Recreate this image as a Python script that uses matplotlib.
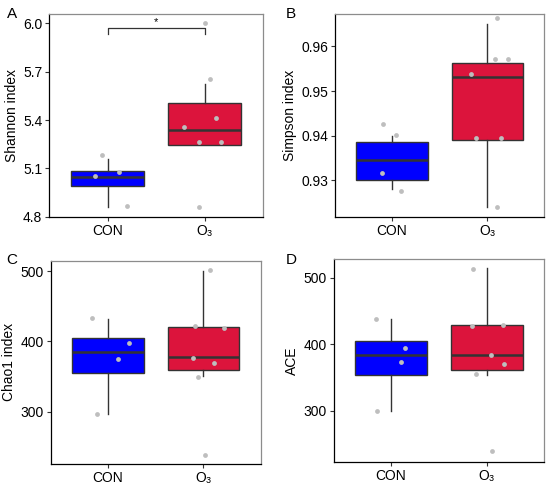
import matplotlib
matplotlib.use("Agg")
import matplotlib.pyplot as plt

plt.rcParams['font.family'] = ['Liberation Sans', 'DejaVu Sans']

groups = ["CON", "O\u2083"]
box_colors = ["#0000FF", "#DC143C"]

# box statistics per panel: (whislo, q1, med, q3, whishi) for CON and O3
shannon_box = [(4.858, 4.990, 5.048, 5.083, 5.160), (5.247, 5.247, 5.336, 5.503, 5.623)]
simpson_box = [(0.92806, 0.93015, 0.93448, 0.93851, 0.9400), (0.92403, 0.93903, 0.95313, 0.95619, 0.96507)]
chao1_box = [(296.7, 355.0, 385.3, 404.7, 431.3), (350.7, 359.7, 377.7, 420.9, 500.0)]
ace_box = [(300.0, 354.1, 383.2, 404.8, 437.3), (354.1, 361.7, 383.7, 428.8, 514.5)]

# jittered sample points (x position, value)
shannon_x = [0.87, 0.945, 1.116, 1.195, 1.79, 1.94, 1.94, 2.0, 2.05, 2.11, 2.17]
shannon_y = [5.054, 5.183, 5.079, 4.864, 5.359, 5.265, 4.858, 6.0, 5.654, 5.41, 5.265]
simpson_x = [0.908, 1.041, 0.897, 1.09, 2.10, 2.08, 2.22, 1.83, 1.88, 2.15, 2.10]
simpson_y = [0.94254, 0.94022, 0.93157, 0.92769, 0.96642, 0.95709, 0.95724, 0.95381, 0.93955, 0.93955, 0.92403]
chao1_x = [0.833, 1.22, 1.10, 0.885, 2.07, 1.91, 2.22, 1.89, 2.11, 1.94, 2.02]
chao1_y = [432.7, 397.2, 374.9, 296.7, 500.9, 422.3, 419.4, 376.8, 368.7, 349.8, 238.9]
ace_x = [0.84, 1.15, 1.10, 0.85, 1.86, 1.85, 2.17, 2.04, 2.18, 1.89, 2.05]
ace_y = [438.3, 394.7, 372.7, 300.0, 513.5, 427.8, 428.8, 384.2, 370.2, 355.6, 238.9]

panels = [
    dict(letter="A", ylabel="Shannon index", box=shannon_box, px=shannon_x, py=shannon_y,
         ylim=(4.8, 6.058), ticks=[4.8, 5.1, 5.4, 5.7, 6.0], fmt="{:.1f}",
         rect=[0.0896, 0.5523, 0.3891, 0.4188], lpos=(0.012, 0.985)),
    dict(letter="B", ylabel="Simpson index", box=simpson_box, px=simpson_x, py=simpson_y,
         ylim=(0.9219, 0.9672), ticks=[0.93, 0.94, 0.95, 0.96], fmt="{:.2f}",
         rect=[0.6091, 0.5523, 0.3805, 0.4182], lpos=(0.520, 0.985)),
    dict(letter="C", ylabel="Chao1 index", box=chao1_box, px=chao1_x, py=chao1_y,
         ylim=(226.1, 514.2), ticks=[300, 400, 500], fmt="{:.0f}",
         rect=[0.0922, 0.0419, 0.3818, 0.4188], lpos=(0.012, 0.478)),
    dict(letter="D", ylabel="ACE", box=ace_box, px=ace_x, py=ace_y,
         ylim=(222.8, 527.6), ticks=[300, 400, 500], fmt="{:.0f}",
         rect=[0.6067, 0.0455, 0.3829, 0.4188], lpos=(0.520, 0.478)),
]

fig = plt.figure(figsize=(5.5, 4.84), dpi=100)

for p in panels:
    ax = fig.add_axes(p["rect"])
    stats = []
    for g, (lo, q1, med, q3, hi) in zip(groups, p["box"]):
        stats.append(dict(label=g, whislo=lo, q1=q1, med=med, q3=q3, whishi=hi, fliers=[]))
    bp = ax.bxp(stats, positions=[1, 2], widths=0.75, patch_artist=True, showcaps=False,
                boxprops=dict(edgecolor="#333333", linewidth=1.0),
                medianprops=dict(color="#333333", linewidth=1.8),
                whiskerprops=dict(color="#333333", linewidth=1.0))
    for patch, c in zip(bp["boxes"], box_colors):
        patch.set_facecolor(c)
    ax.scatter(p["px"], p["py"], s=12, color="#BEBEBE", zorder=3, linewidths=0)

    ax.set_xlim(0.4, 2.6)
    ax.set_ylim(*p["ylim"])
    ax.set_yticks(p["ticks"])
    ax.set_yticklabels([p["fmt"].format(t) for t in p["ticks"]])
    ax.set_xticks([1, 2])
    ax.set_xticklabels(groups)
    ax.tick_params(labelsize=10, length=3, width=0.8, color="#333333", labelcolor="black", pad=2)
    ax.set_ylabel(p["ylabel"], fontsize=10, labelpad=3)
    for s in ["top", "right"]:
        ax.spines[s].set_color("#8C8C8C")
        ax.spines[s].set_linewidth(0.9)
    for s in ["left", "bottom"]:
        ax.spines[s].set_color("black")
        ax.spines[s].set_linewidth(0.9)
    fig.text(p["lpos"][0], p["lpos"][1], p["letter"], fontsize=11, va="top", ha="left")

# significance bracket on panel A
axA = fig.axes[0]
axA.plot([1, 1, 2, 2], [5.932, 5.969, 5.969, 5.932], color="#333333", linewidth=0.9)
axA.text(1.5, 5.975, "*", ha="center", va="bottom", fontsize=8)

fig.savefig("out.png", dpi=100)
